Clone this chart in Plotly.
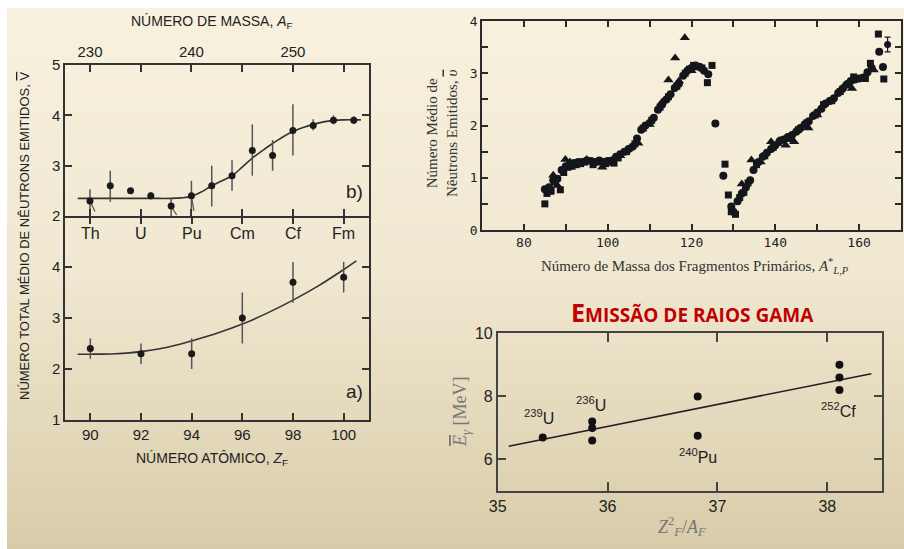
import plotly.graph_objects as go
import numpy as np

W, H = 904, 549

# ---------------- Panel b) : nu vs mass number ----------------
b_mass = [230, 232, 234, 236, 238, 240, 242, 244, 246, 248, 250, 252, 254, 256]
b_nu = [2.3, 2.6, 2.5, 2.4, 2.2, 2.4, 2.6, 2.8, 3.3, 3.2, 3.7, 3.8, 3.9, 3.9]
b_err_plus = [0.23, 0.3, 0.06, 0.07, 0.15, 0.3, 0.4, 0.31, 0.52, 0.31, 0.52, 0.12, 0.1, 0.08]
b_err_minus = [0.2, 0.32, 0.06, 0.07, 0.2, 0.3, 0.41, 0.3, 0.5, 0.3, 0.5, 0.1, 0.08, 0.07]
b_fit_mass = [228.8, 232, 236, 238, 239, 240, 241, 242, 243, 244, 245, 246, 247, 248,
              249, 250, 251, 252, 253, 254, 255, 256.7]
b_fit_nu = [2.35, 2.35, 2.35, 2.35, 2.36, 2.39, 2.48, 2.6, 2.7, 2.8, 2.97, 3.15, 3.3, 3.44,
            3.57, 3.68, 3.76, 3.82, 3.87, 3.9, 3.91, 3.91]
b_leader_mass = [230, 230.5, None, 238, 238.55, None, 240, 240.25]
b_leader_nu = [2.3, 2.09, None, 2.19, 2.02, None, 2.4, 2.1]
mass_ticks = [230, 235, 240, 245, 250, 255]
mass_ticktext = ["230", "", "240", "", "250", ""]

# ---------------- Panel a) : nu vs atomic number ----------------
a_z = [90, 92, 94, 96, 98, 100]
a_nu = [2.4, 2.3, 2.3, 3.0, 3.7, 3.8]
a_err_plus = [0.2, 0.2, 0.3, 0.5, 0.4, 0.3]
a_err_minus = [0.2, 0.2, 0.3, 0.5, 0.4, 0.3]
a_fit_z = [89.5, 90, 91, 92, 93, 94, 95, 96, 97, 98, 99, 100, 100.5]
a_fit_nu = [2.29, 2.29, 2.3, 2.34, 2.42, 2.55, 2.7, 2.88, 3.1, 3.35, 3.63, 3.95, 4.12]
elements = ["Th", "U", "Pu", "Cm", "Cf", "Fm"]

# ---------------- Top-right: nu vs fragment mass ----------------
circ_A = [85, 86, 87, 88, 89, 90, 91, 92, 93, 94, 95, 96, 97, 98, 99, 100, 101, 102, 103, 104,
          105, 106, 107, 108, 109, 110, 111, 112, 113, 114, 115, 116, 117, 118, 119, 120, 121,
          122, 123, 124, 125.7,
          127.6, 129.5, 130, 131, 132, 133, 134, 134.8, 136, 137, 138, 139, 140, 141, 142, 143,
          144, 145, 146, 147, 148, 149, 150, 151, 152, 153, 154, 155, 156, 157, 158, 159, 160,
          161, 162, 163, 164.8, 165.7]
circ_nu = [0.78, 0.82, 0.95, 0.98, 1.15, 1.22, 1.27, 1.28, 1.3, 1.3, 1.33, 1.32, 1.3, 1.33, 1.3,
           1.32, 1.33, 1.4, 1.45, 1.5, 1.55, 1.6, 1.75, 1.92, 2.0, 2.05, 2.15, 2.3, 2.4, 2.5, 2.6,
           2.72, 2.8, 2.95, 3.05, 3.1, 3.15, 3.12, 3.05, 2.98, 2.04,
           1.04, 0.45, 0.35, 0.55, 0.7, 0.82, 0.95, 1.15, 1.3, 1.4, 1.48, 1.55, 1.62, 1.7, 1.73,
           1.78, 1.82, 1.88, 1.95, 2.02, 2.08, 2.18, 2.25, 2.32, 2.42, 2.47, 2.52, 2.62, 2.7,
           2.78, 2.85, 2.88, 2.9, 2.92, 3.02, 3.1, 3.41, 3.12]
sq_A = [85, 85.5, 86.5, 87.5, 88.7, 89.5, 90.5, 91.5, 92.5, 93.5, 94.5, 96.5, 97.5, 99.5, 100.5,
        101.5, 102.5, 104.5, 106.5, 108.5, 110.5, 112.5, 114.5, 116.5, 118.5, 119.5, 120.5,
        121.5, 122.5, 123.8, 124.9,
        128, 128.8, 129.5, 130.5, 131.5, 132.5, 133.5, 135.5, 137.5, 139.5, 141.5, 143.5, 145.5,
        147.5, 149.5, 151.5, 153.5, 155.5, 157.5, 158.7, 159.5, 161.5, 162.7, 164.6, 165.9]
sq_nu = [0.5, 0.7, 0.75, 0.92, 0.77, 1.1, 1.2, 1.22, 1.25, 1.27, 1.3, 1.25, 1.3, 1.27, 1.3,
         1.28, 1.38, 1.5, 1.65, 1.95, 2.1, 2.35, 2.55, 2.75, 3.0, 3.08, 3.15, 3.13, 3.1, 2.82,
         3.15,
         1.26, 0.67, 0.35, 0.3, 0.62, 0.72, 0.9, 1.25, 1.42, 1.58, 1.72, 1.75, 1.92, 2.05, 2.2,
         2.4, 2.48, 2.65, 2.8, 2.93, 2.9, 2.9, 3.19, 3.75, 2.89]
tri_A = [86, 87, 88, 89.9, 91, 95, 98.7, 101, 103, 105, 107.3, 110, 113, 114.5, 116.1, 117,
         118.4, 120, 121,
         132, 134.3, 136.5, 139, 140.5, 142.5, 144.5, 147.9, 150, 153, 156, 158.3, 163.5]
tri_nu = [0.72, 1.05, 0.85, 1.35, 1.3, 1.35, 1.2, 1.28, 1.42, 1.55, 1.66, 2.02, 2.45, 2.87,
          3.29, 2.85, 3.68, 3.05, 3.1,
          0.88, 1.34, 1.3, 1.69, 1.65, 1.62, 1.69, 1.95, 2.2, 2.45, 2.72, 2.71, 3.06]
errpt_A = [166.8]
errpt_nu = [3.55]
errpt_err = [0.14]
frag_ticks = [80, 90, 100, 110, 120, 130, 140, 150, 160]
frag_ticktext = ["80", "", "100", "", "120", "", "140", "", "160"]
nu_ticks = [0, 0.5, 1, 1.5, 2, 2.5, 3, 3.5, 4]
nu_ticktext = ["0", "", "1", "", "2", "", "3", "", "4"]

# ---------------- Bottom-right: gamma emission ----------------
g_x = [35.41, 35.86, 35.86, 35.86, 36.82, 36.82, 38.11, 38.11, 38.11]
g_E = [6.7, 7.2, 7.0, 6.6, 8.0, 6.75, 9.0, 8.6, 8.2]
g_fit_x = [35.1, 38.4]
g_fit_E = [6.42, 8.72]
g_labels = ["<sup>239</sup>U", "<sup>236</sup>U", "<sup>240</sup>Pu", "<sup>252</sup>Cf"]
g_label_x = [35.38, 35.85, 36.82, 38.1]
g_label_E = [7.34, 7.77, 6.1, 7.56]

# ---------------- helpers ----------------
def px(x):
    return x / W

def py(y):
    return 1 - y / H

fig = go.Figure()

# background gradient (slide) with white frame top/left
stops_y = [8, 270, 440, 549]
stops_c = [(248, 241, 222), (240, 232, 209), (226, 215, 185), (216, 203, 169)]
n = 70
edges = np.linspace(8, 549, n + 1)
shapes = []
for i in range(n):
    ym = (edges[i] + edges[i + 1]) / 2
    c = [int(round(np.interp(ym, stops_y, [s[k] for s in stops_c]))) for k in range(3)]
    y_bottom = edges[i + 1] + 0.6 if i < n - 1 else edges[i + 1] + 5
    shapes.append(dict(type="rect", xref="paper", yref="paper", layer="below",
                       x0=px(7), x1=1.02, y0=py(y_bottom), y1=py(edges[i]),
                       fillcolor=f"rgb({c[0]},{c[1]},{c[2]})", line=dict(width=0)))
shapes.append(dict(type="rect", xref="paper", yref="paper", layer="below",
                   x0=-0.01, x1=1.02, y0=py(8), y1=1.01, fillcolor="white", line=dict(width=0)))
shapes.append(dict(type="rect", xref="paper", yref="paper", layer="below",
                   x0=-0.01, x1=px(7), y0=-0.01, y1=1.01, fillcolor="white", line=dict(width=0)))

dark = "#1a1a1a"
line_c = "#333333"
err_c = "#555555"

# Panel b
fig.add_trace(go.Scatter(x=b_fit_mass, y=b_fit_nu, mode="lines", line=dict(color="#333", width=1.6, shape="spline"),
                         xaxis="x", yaxis="y", showlegend=False))
fig.add_trace(go.Scatter(x=b_leader_mass, y=b_leader_nu, mode="lines", line=dict(color="#555", width=1.2),
                         xaxis="x", yaxis="y", showlegend=False))
fig.add_trace(go.Scatter(x=b_mass, y=b_nu, mode="markers", marker=dict(color=dark, size=7),
                         error_y=dict(type="data", array=b_err_plus, arrayminus=b_err_minus, color=err_c,
                                      thickness=1.5, width=0),
                         xaxis="x", yaxis="y", showlegend=False))
# Panel a
fig.add_trace(go.Scatter(x=a_fit_z, y=a_fit_nu, mode="lines", line=dict(color="#333", width=1.6, shape="spline"),
                         xaxis="x2", yaxis="y2", showlegend=False))
fig.add_trace(go.Scatter(x=a_z, y=a_nu, mode="markers", marker=dict(color=dark, size=7),
                         error_y=dict(type="data", array=a_err_plus, arrayminus=a_err_minus, color=err_c,
                                      thickness=1.5, width=0),
                         xaxis="x2", yaxis="y2", showlegend=False))
# Top-right
mk = "#15161c"
fig.add_trace(go.Scatter(x=circ_A, y=circ_nu, mode="markers", marker=dict(color=mk, size=8, symbol="circle"),
                         xaxis="x3", yaxis="y3", showlegend=False))
fig.add_trace(go.Scatter(x=sq_A, y=sq_nu, mode="markers", marker=dict(color=mk, size=7, symbol="square"),
                         xaxis="x3", yaxis="y3", showlegend=False))
fig.add_trace(go.Scatter(x=tri_A, y=tri_nu, mode="markers", marker=dict(color=mk, size=9, symbol="triangle-up"),
                         xaxis="x3", yaxis="y3", showlegend=False))
fig.add_trace(go.Scatter(x=errpt_A, y=errpt_nu, mode="markers", marker=dict(color=mk, size=7),
                         error_y=dict(type="data", array=errpt_err, color=mk, thickness=1.2, width=3),
                         xaxis="x3", yaxis="y3", showlegend=False))
# Bottom-right
fig.add_trace(go.Scatter(x=g_fit_x, y=g_fit_E, mode="lines", line=dict(color="#222", width=1.5),
                         xaxis="x4", yaxis="y4", showlegend=False))
fig.add_trace(go.Scatter(x=g_x, y=g_E, mode="markers", marker=dict(color="#111", size=8),
                         xaxis="x4", yaxis="y4", showlegend=False))

sans = "Liberation Sans"
serif = "Liberation Serif"
common = dict(showgrid=False, zeroline=False, showline=True, ticks="inside", mirror="ticks")

left_dom = [px(65), px(369)]
fig.update_layout(
    width=W, height=H, margin=dict(l=0, r=0, t=0, b=0, pad=0, autoexpand=False),
    paper_bgcolor="rgb(226,215,185)", plot_bgcolor="rgba(0,0,0,0)",
    shapes=shapes,
    xaxis=dict(domain=left_dom, range=[227.54, 257.5], side="top", anchor="y",
               tickvals=mass_ticks, ticktext=mass_ticktext, linecolor=line_c, linewidth=1.5,
               tickcolor=line_c, ticklen=7, tickwidth=1.5,
               tickfont=dict(family=sans, size=15, color="#222"), **common),
    yaxis=dict(domain=[py(216), py(65)], range=[2, 5], anchor="x", tickvals=[2, 3, 4, 5],
               linecolor=line_c, linewidth=1.5, tickcolor=line_c, ticklen=7, tickwidth=1.5,
               tickfont=dict(family=sans, size=15, color="#222"), **common),
    xaxis2=dict(domain=left_dom, range=[89, 101], anchor="y2", tickvals=[90, 92, 94, 96, 98, 100],
                linecolor=line_c, linewidth=1.5, tickcolor=line_c, ticklen=7, tickwidth=1.5,
                tickfont=dict(family=sans, size=15, color="#222"), **common),
    yaxis2=dict(domain=[py(420), py(217.5)], range=[1, 4.97], anchor="x2", tickvals=[1, 2, 3, 4],
                linecolor=line_c, linewidth=1.5, tickcolor=line_c, ticklen=7, tickwidth=1.5,
                tickfont=dict(family=sans, size=15, color="#222"), **common),
    xaxis3=dict(domain=[px(482), px(901)], range=[70, 170], anchor="y3", tickvals=frag_ticks,
                ticktext=frag_ticktext, linecolor="#2a2a2a", linewidth=1.5, tickcolor="#2a2a2a",
                ticklen=6, tickwidth=1.5,
                tickfont=dict(family="DejaVu Sans Mono", size=13, color="#222"), **common),
    yaxis3=dict(domain=[py(230), py(21)], range=[0, 4], anchor="x3", tickvals=nu_ticks,
                ticktext=nu_ticktext, linecolor="#2a2a2a", linewidth=1.5, tickcolor="#2a2a2a",
                ticklen=6, tickwidth=1.5,
                tickfont=dict(family="DejaVu Sans Mono", size=13, color="#222"), **common),
    xaxis4=dict(domain=[px(497.7), px(882.3)], range=[35, 38.5], anchor="y4", tickvals=[35, 36, 37, 38],
                linecolor="#444", linewidth=1.5, tickcolor="#444", ticklen=9, tickwidth=1.5,
                tickfont=dict(family=sans, size=16, color="#222"), **common),
    yaxis4=dict(domain=[py(491), py(333.3)], range=[5, 10], anchor="x4", tickvals=[6, 8, 10],
                linecolor="#444", linewidth=1.5, tickcolor="#444", ticklen=9, tickwidth=1.5,
                tickfont=dict(family=sans, size=16, color="#222"), **common),
)

ann = []
def A(text, x, y, size, family=sans, color="#222", angle=0, xanchor="center", yanchor="middle"):
    ann.append(dict(text=text, x=px(x), y=py(y), xref="paper", yref="paper", showarrow=False,
                    font=dict(family=family, size=size, color=color), textangle=angle,
                    xanchor=xanchor, yanchor=yanchor))

A("NÚMERO DE MASSA, <i>A</i><sub>F</sub>", 212, 22, 14)
A("NÚMERO ATÔMICO, <i>Z</i><sub>F</sub>", 212, 459, 14)
A("NÚMERO TOTAL MÉDIO DE NÊUTRONS EMITIDOS, <span style='text-decoration:overline'>V</span>",
  24, 236, 13, angle=-90)
A("b)", 354, 191, 19)
A("a)", 354, 391, 19)
for el, z in zip(elements, a_z):
    ann.append(dict(text=el, x=z, y=py(233), xref="x2", yref="paper", showarrow=False,
                    font=dict(family=sans, size=16, color="#222")))

A("Número Médio de<br>Nêutrons Emitidos, <i><span style='text-decoration:overline'>υ</span></i>",
  442, 134, 15, family=serif, color="#333", angle=-90)
A("Número de Massa dos Fragmentos Primários, <i>A</i><sup>*</sup><sub><i>L,P</i></sub>", 695, 266, 15,
  family=serif, color="#333")

A("<b><span style='font-size:25px'>E</span>MISSÃO DE RAIOS GAMA</b>", 692, 312, 19,
  family="Open Sans", color="#c00000")
A("<i><span style='text-decoration:overline'>E</span></i><sub><i>γ</i></sub> [MeV]", 461, 412, 18,
  family=serif, color="#777", angle=-90)
A("<i>Z</i><sup>2</sup><sub><i>F</i></sub>/<i>A</i><sub><i>F</i></sub>", 682, 526, 18, family=serif, color="#777")
for t, gx, gy in zip(g_labels, g_label_x, g_label_E):
    ann.append(dict(text=t, x=gx, y=gy, xref="x4", yref="y4", showarrow=False,
                    font=dict(family=sans, size=16, color="#222")))

fig.update_layout(annotations=ann)
fig.write_html("out.html")
